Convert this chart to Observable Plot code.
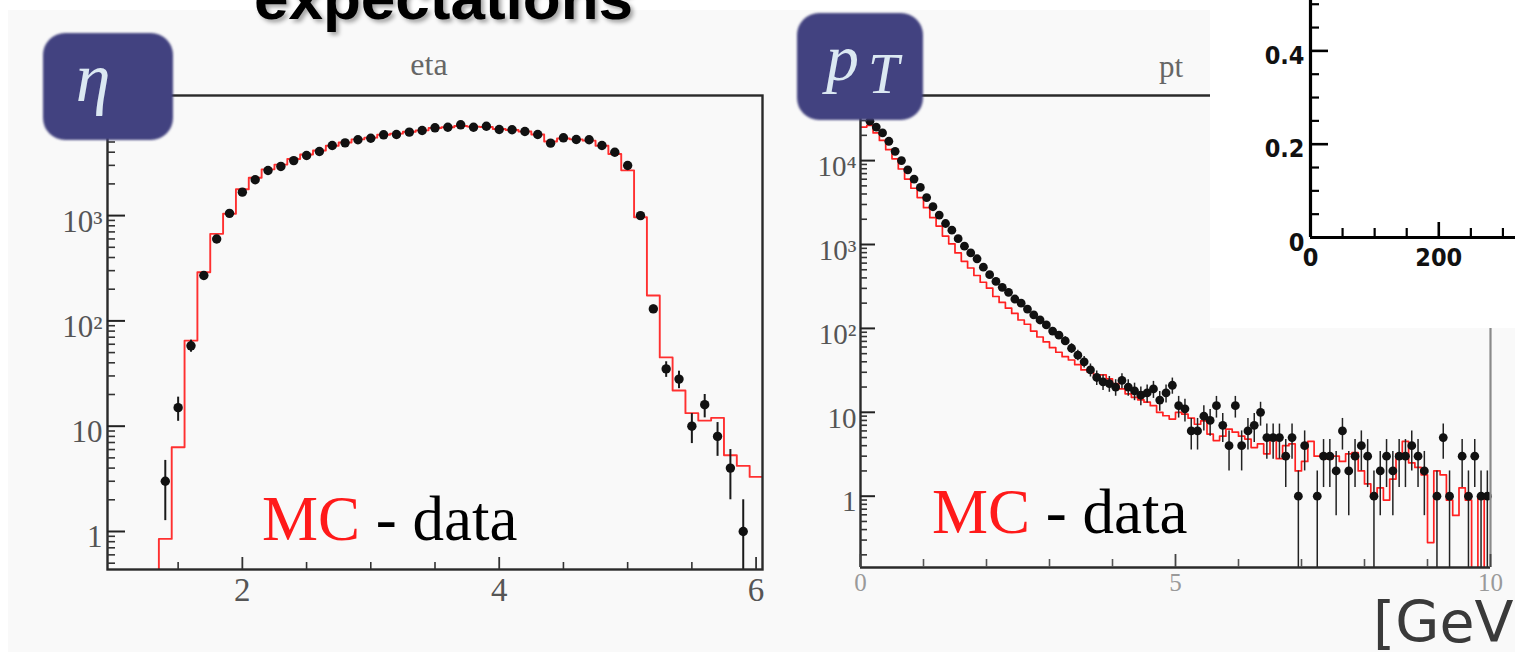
<!DOCTYPE html>
<html><head><meta charset="utf-8">
<script src="https://cdn.jsdelivr.net/npm/d3@7"></script>
<script src="https://cdn.jsdelivr.net/npm/@observablehq/plot@0.6"></script>
<style>
html,body{margin:0;padding:0;background:#fff;}
#root{position:relative;width:1515px;height:652px;overflow:hidden;background:#fff;}
#root > svg, #root > div {position:absolute;}
</style></head><body><div id="root"></div>
<script>
// ---------------- DATA ----------------
// eta histogram (bin centres, width 0.1)
const etaCenters = [1.4,1.5,1.6,1.7,1.8,1.9,2.0,2.1,2.2,2.3,2.4,2.5,2.6,2.7,2.8,2.9,3.0,3.1,3.2,3.3,3.4,3.5,3.6,3.7,3.8,3.9,4.0,4.1,4.2,4.3,4.4,4.5,4.6,4.7,4.8,4.9,5.0,5.1,5.2,5.3,5.4,5.5,5.6,5.7,5.8,5.9,6.0];
const etaMC = [0.85,6.3,65,290,671,1040,1780,2290,2750,3050,3450,3800,4150,4600,4950,5300,5500,5850,6000,6250,6450,6800,6900,7100,7000,6950,6650,6500,6300,5900,5050,5400,5300,5150,4600,3850,2690,966,174,45,21.8,13.3,11.3,12,5.3,4.2,3.3];
const etaData = [3,15,58,270,600,1050,1670,2190,2680,2930,3330,3720,4060,4630,4910,5250,5430,5850,5890,6200,6430,6820,6900,7280,6900,7060,6570,6530,6290,5890,4875,5480,5280,5250,4630,4000,2990,1000,130,35,28,10,16,8,4,1,null];

// pT histogram (bin centres, width 0.1 GeV)
const ptCenters = [0.05,0.15,0.25,0.35,0.45,0.55,0.65,0.75,0.85,0.95,
1.05,1.15,1.25,1.35,1.45,1.55,1.65,1.75,1.85,1.95,
2.05,2.15,2.25,2.35,2.45,2.55,2.65,2.75,2.85,2.95,
3.05,3.15,3.25,3.35,3.45,3.55,3.65,3.75,3.85,3.95,
4.05,4.15,4.25,4.35,4.45,4.55,4.65,4.75,4.85,4.95,
5.05,5.15,5.25,5.35,5.45,5.55,5.65,5.75,5.85,5.95,
6.05,6.15,6.25,6.35,6.45,6.55,6.65,6.75,6.85,6.95,
7.05,7.15,7.25,7.35,7.45,7.55,7.65,7.75,7.85,7.95,
8.05,8.15,8.25,8.35,8.45,8.55,8.65,8.75,8.85,8.95,
9.05,9.15,9.25,9.35,9.45,9.55,9.65,9.75,9.85,9.95];
const ptData = [36300,29500,25100,21400,17000,12900,10000,7760,6030,4790,
3630,2820,2240,1780,1480,1175,955,794,676,537,
437,363,309,269,224,200,170,145,126,110,
93,83,71,58,48,40,32,26,23,22,
20,24,20,18,16,17,19,14,17,21,
12,11,6,6,9,8,12,7,4,12,
4,6,7,10,5,5,5,3,5,1,
4,0,1,3,3,2,6,2,3,4,
3,1,2,3,2,3,3,4,3,2,
0,1,5,1,0,3,1,3,1,1];
const ptMC = [25100,26300,21400,17400,13500,10500,7940,6030,4680,3630,
2750,2090,1660,1260,1020,794,631,525,427,355,
302,240,204,174,151,126,112,93,79,69,
59,52,46,42,37,32,30,26,28,25,
22,19,16.6,15.1,14.1,13.2,12.0,10.0,9.1,8.3,
10.0,9.5,8.5,7.2,7.9,5.5,4.6,5.2,6.3,5.8,
5.2,4.8,3.8,4.2,3.2,5.2,2.8,4.0,4.2,2.0,
2.6,4.5,3.0,3.2,2.8,3.0,2.6,3.2,3.3,2.0,
1.4,1.0,1.26,0.9,1.6,3.2,4.5,2.5,2.2,1.8,
0.28,2.0,1.8,0.9,0.59,1.26,0.9,0.05,1.0,0.12];

// axis ticks / labels
const etaYMajor = [1,10,100,1000,10000];
const etaYMinor = [0.5,0.6,0.7,0.8,0.9,2,3,4,5,6,7,8,9,20,30,40,50,60,70,80,90,200,300,400,500,600,700,800,900,2000,3000,4000,5000,6000,7000,8000,9000];
const etaYLabelVals = [1,10,100,1000];
const etaYLabels = ["1","10","10²","10³"];
const etaXMajor = [2,4,6];
const etaXMinor = [1.5,2.5,3,3.5,4.5,5,5.5];
const etaXLabels = ["2","4","6"];

const ptYMajor = [1,10,100,1000,10000];
const ptYMinor = [0.2,0.3,0.4,0.5,0.6,0.7,0.8,0.9,2,3,4,5,6,7,8,9,20,30,40,50,60,70,80,90,200,300,400,500,600,700,800,900,2000,3000,4000,5000,6000,7000,8000,9000,20000,30000,40000,50000];
const ptYLabelVals = [1,10,100,1000,10000];
const ptYLabels = ["1","10","10²","10³","10⁴"];
const ptXMajor = [0,5,10];
const ptXMinor = [1,2,3,4,6,7,8,9];
const ptXLabelVals = [0,5,10];
const ptXLabels = ["0","5","10"];

const inYMajor = [0,0.2,0.4];
const inYMinor = [0.05,0.1,0.15,0.25,0.3,0.35,0.45,0.5];
const inYLabels = ["0","0.2","0.4"];
const inXMajor = [0,200];
const inXMinor = [50,100,150,250,300];
const inXLabels = ["0","200"];

// ---------------- BUILD ----------------
const W = 1515, H = 652;
const root = document.getElementById("root");

const gray = document.createElement("div");
Object.assign(gray.style, {left:"8px", top:"10px", width:(W-8)+"px", height:(H-10)+"px", background:"#f9f9f9"});
root.appendChild(gray);

function stepsFrom(centers, vals, half, start) {
  const out = start ? [start] : [];
  centers.forEach((c, i) => { out.push({x: c - half, y: vals[i]}, {x: c + half, y: vals[i]}); });
  return out;
}
function pointsFrom(centers, vals) {
  return centers.map((c, i) => ({x: c, n: vals[i]}))
    .filter(d => d.n != null && d.n > 0)
    .map(d => ({...d, lo: Math.max(d.n - Math.sqrt(d.n), 0.01), hi: d.n + Math.sqrt(d.n)}));
}
const serif = "Liberation Serif, Times New Roman, serif";

// ---- eta panel ----
const etaFW = 762 - 107, etaFH = 569 - 95;
const etaPlot = Plot.plot({
  width: W, height: H,
  marginLeft: 107, marginRight: W - 762, marginTop: 95, marginBottom: H - 569,
  style: {background: "transparent", overflow: "visible"},
  x: {domain: [0.95, 6.05], axis: null},
  y: {type: "log", domain: [0.4355, 13822], axis: null},
  marks: [
    Plot.line(stepsFrom(etaCenters, etaMC, 0.05, {x: 1.35, y: 0.01}), {x: "x", y: "y", stroke: "#ff3030", strokeWidth: 1.9, clip: true}),
    Plot.ruleX(pointsFrom(etaCenters, etaData), {x: "x", y1: "lo", y2: "hi", stroke: "#1a1a1a", strokeWidth: 2, clip: true}),
    Plot.dot(pointsFrom(etaCenters, etaData), {x: "x", y: "n", r: 4.7, fill: "#111"}),
    Plot.frame({stroke: "#2a2a2a", strokeWidth: 2.4}),
    Plot.tickY(etaYMajor, {y: d => d, insetRight: etaFW - 18, stroke: "#222", strokeWidth: 2}),
    Plot.tickY(etaYMinor, {y: d => d, insetRight: etaFW - 8, stroke: "#333", strokeWidth: 1.6}),
    Plot.tickX(etaXMajor, {x: d => d, insetTop: etaFH - 12, stroke: "#333", strokeWidth: 1.8}),
    Plot.tickX(etaXMinor, {x: d => d, insetTop: etaFH - 7, stroke: "#333", strokeWidth: 1.6}),
    Plot.text(etaYLabelVals, {y: d => d, text: (d, i) => etaYLabels[i], frameAnchor: "left", textAnchor: "end", dx: -5, dy: 6, fontSize: 31, fontFamily: serif, fill: "#555"}),
    Plot.text(etaXMajor, {x: d => d, text: (d, i) => etaXLabels[i], frameAnchor: "bottom", dy: 31, fontSize: 33, fontFamily: serif, fill: "#555"})
  ]
});
root.appendChild(etaPlot);

// ---- pT panel ----
const ptFW = 1490 - 860, ptFH = 567 - 95;
const ptPlot = Plot.plot({
  width: W, height: H,
  marginLeft: 860, marginRight: W - 1490, marginTop: 95, marginBottom: H - 567,
  style: {background: "transparent", overflow: "visible"},
  x: {domain: [0, 10], axis: null},
  y: {type: "log", domain: [0.1413, 59700], axis: null},
  marks: [
    Plot.line(stepsFrom(ptCenters, ptMC, 0.05, null), {x: "x", y: "y", stroke: "#ff2020", strokeWidth: 1.7, clip: true}),
    Plot.ruleX(pointsFrom(ptCenters, ptData), {x: "x", y1: "lo", y2: "hi", stroke: "#222", strokeWidth: 1.5, clip: true}),
    Plot.dot(pointsFrom(ptCenters, ptData), {x: "x", y: "n", r: 4.4, fill: "#111"}),
    Plot.ruleX([0], {stroke: "#2a2a2a", strokeWidth: 2.4}),
    Plot.ruleY([0.1413], {stroke: "#2a2a2a", strokeWidth: 2.4}),
    Plot.ruleY([59700], {stroke: "#2a2a2a", strokeWidth: 2.4}),
    Plot.ruleX([10], {stroke: "#8a8a8a", strokeWidth: 2.2}),
    Plot.tickY(ptYMajor, {y: d => d, insetRight: ptFW - 15, stroke: "#222", strokeWidth: 2}),
    Plot.tickY(ptYMinor, {y: d => d, insetRight: ptFW - 7, stroke: "#333", strokeWidth: 1.6}),
    Plot.tickX(ptXMajor, {x: d => d, insetTop: ptFH - 13, stroke: "#444", strokeWidth: 1.8}),
    Plot.tickX(ptXMinor, {x: d => d, insetTop: ptFH - 8, stroke: "#555", strokeWidth: 1.6}),
    Plot.text(ptYLabelVals, {y: d => d, text: (d, i) => ptYLabels[i], frameAnchor: "left", textAnchor: "end", dx: -4, dy: 6, fontSize: 29, fontFamily: serif, fill: "#555"}),
    Plot.text(ptXLabelVals, {x: d => d, text: (d, i) => ptXLabels[i], frameAnchor: "bottom", dy: 23, fontSize: 25, fontFamily: serif, fill: "#9a9a9a"})
  ]
});
root.appendChild(ptPlot);

// ---- inset (white) ----
const inFW = 205, inFH = 237;
const narrow = "Liberation Sans Narrow, DejaVu Sans Condensed, Liberation Sans, Arial, sans-serif";
const inPlot = Plot.plot({
  width: 305, height: 328,
  marginLeft: 100, marginRight: 0, marginTop: 0, marginBottom: 328 - 237,
  style: {background: "#ffffff", overflow: "hidden"},
  x: {domain: [0, 319.6], axis: null},
  y: {domain: [0, 0.508], axis: null},
  marks: [
    Plot.ruleX([0], {stroke: "#000", strokeWidth: 3.2}),
    Plot.ruleY([0], {stroke: "#000", strokeWidth: 3.2}),
    Plot.tickY(inYMajor, {y: d => d, insetRight: inFW - 18, stroke: "#000", strokeWidth: 2.6}),
    Plot.tickY(inYMinor, {y: d => d, insetRight: inFW - 9, stroke: "#000", strokeWidth: 2.2}),
    Plot.tickX(inXMajor, {x: d => d, insetTop: inFH - 15, stroke: "#000", strokeWidth: 2.6}),
    Plot.tickX(inXMinor, {x: d => d, insetTop: inFH - 9, stroke: "#000", strokeWidth: 2.2}),
    Plot.text(inYMajor, {y: d => d, text: (d, i) => inYLabels[i], frameAnchor: "left", textAnchor: "end", dx: -6, dy: 5, fontSize: 25, fontWeight: "bold", fontFamily: narrow, fill: "#111"}),
    Plot.text(inXMajor, {x: d => d, text: (d, i) => inXLabels[i], frameAnchor: "bottom", dy: 28, fontSize: 25, fontWeight: "bold", fontFamily: narrow, fill: "#111"})
  ]
});
inPlot.style.left = "1210px"; inPlot.style.top = "0px";
root.appendChild(inPlot);

// ---- overlay: title, badges, labels ----
const ov = d3.select(root).append("svg").attr("width", W).attr("height", H).style("left", "0px").style("top", "0px");
const defs = ov.append("defs");
defs.append("filter").attr("id", "sh").attr("x", "-10%").attr("y", "-50%").attr("width", "130%").attr("height", "200%")
  .append("feDropShadow").attr("dx", 3).attr("dy", 3).attr("stdDeviation", 2).attr("flood-color", "#000").attr("flood-opacity", 0.35);
defs.append("filter").attr("id", "soft").append("feGaussianBlur").attr("stdDeviation", 0.8);

ov.append("text").attr("x", 254).attr("y", 19).attr("font-family", "Liberation Sans, Arial, sans-serif")
  .attr("font-weight", "bold").attr("font-size", 62).attr("fill", "#000").attr("filter", "url(#sh)").text("expectations");

// badges
ov.append("rect").attr("x", 43).attr("y", 33).attr("width", 130).attr("height", 107).attr("rx", 22).attr("fill", "#434380").attr("filter", "url(#soft)");
ov.append("text").attr("x", 93).attr("y", 101).attr("text-anchor", "middle").attr("font-family", serif)
  .attr("font-style", "italic").attr("font-size", 70).attr("fill", "#dbe8f2").text("η");
ov.append("rect").attr("x", 797).attr("y", 13).attr("width", 126).attr("height", 107).attr("rx", 22).attr("fill", "#434380").attr("filter", "url(#soft)");
ov.append("text").attr("x", 826).attr("y", 80).attr("font-family", serif).attr("font-style", "italic")
  .attr("font-size", 66).attr("fill", "#dbe8f2").text("p");
ov.append("text").attr("x", 868).attr("y", 93).attr("font-family", serif).attr("font-style", "italic")
  .attr("font-size", 56).attr("fill", "#dbe8f2").text("T");

// histogram titles
ov.append("text").attr("x", 429).attr("y", 75).attr("text-anchor", "middle").attr("font-family", serif)
  .attr("font-size", 32).attr("fill", "#666").text("eta");
ov.append("text").attr("x", 1159).attr("y", 77).attr("font-family", serif)
  .attr("font-size", 31).attr("fill", "#666").text("pt");

// MC - data legends
function mcData(x, y) {
  const t = ov.append("text").attr("x", x).attr("y", y).attr("font-family", serif).attr("font-size", 63);
  t.append("tspan").attr("fill", "#ff1a1a").text("MC");
  t.append("tspan").attr("fill", "#000").text(" - data");
}
mcData(262, 540);
mcData(932, 533);

// unit
ov.append("text").attr("x", 1373).attr("y", 642).attr("font-family", "DejaVu Sans, Verdana, sans-serif")
  .attr("font-size", 57).attr("fill", "#3a3a3a").text("[GeV]");
</script></body></html>
